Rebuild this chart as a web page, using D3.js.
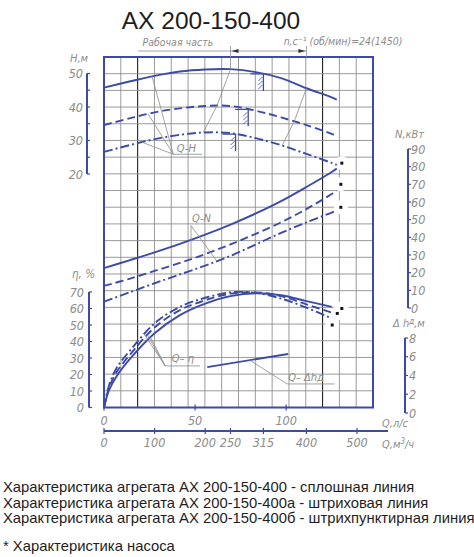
<!DOCTYPE html>
<html>
<head>
<meta charset="utf-8">
<script src="https://cdn.jsdelivr.net/npm/d3@7"></script>
<style>
  body { margin: 0; background: #fff; }
  svg { display: block; }
  .cad { font-family: 'DejaVu Sans Condensed', 'DejaVu Sans', sans-serif; font-style: italic; font-weight: 200; fill: #8c8c8c; }
  .note { font-family: 'Liberation Sans', Arial, sans-serif; fill: #1e1e1e; }
</style>
</head>
<body>
<svg width="474" height="557"></svg>
<script>
const d3 = window.d3

// Values, Q in m3/h

const title = 'АХ 200-150-400'
const variants = ['АХ 200-150-400', 'АХ 200-150-400а', 'АХ 200-150-400б']

const qFlow = [0, 50, 100, 150, 200, 250, 300, 350, 400, 450, 460]
const headSolid = [45.8, 47.6, 49.3, 50.6, 51.2, 51.3, 50.4, 48.6, 45.6, 42.9, 42.2]
const headDash = [34.6, 36.6, 38.4, 39.6, 40.3, 40.3, 38.9, 36.9, 34.6, 32.0, 31.4]
const headDashDot = [26.6, 28.6, 30.4, 31.7, 32.4, 32.2, 30.7, 28.6, 26.0, 23.3, 22.7]

const powerSolid = [22.6, 27, 31.5, 36.3, 41.5, 47.2, 53.5, 60.5, 68.5, 77, 79]
const powerDash = [12.5, 16.5, 21, 25.5, 30.5, 36, 42, 48.5, 56, 64.5, 66.3]
const powerDashDot = [3.6, 8.8, 14, 19, 24, 29.5, 36, 42.5, 48.5, 54, 55.2]

const qEff = [0, 10, 25, 50, 100, 150, 200, 250, 300, 350, 400, 450]
const effSolid = [0, 10.5, 19, 29, 45, 56, 63, 67.5, 69.2, 68, 64.5, 61]
const effDash = [0, 12, 21.5, 31.5, 48.5, 59, 65, 69, 69.8, 67.5, 62.5, 57.5]
const effDashDot = [0, 13.5, 24, 34, 51, 61, 66.5, 69.8, 69.5, 66, 60.5, 54]

const qNpsh = [204, 364]
const npsh = [4.9, 6.3]

const ratedQ = [315, 285, 260]
const workLeftQ = [250, 223, 196]
const workRightQ = [400, 376, 352]

const powerDotsQ = [470, 468, 468]
const powerDots = [82, 70, 57]
const effDotsQ = [470, 461, 451]
const effDots = [60, 57, 50]

const ticksQls = [0, 50, 100]
const ticksQm3 = [0, 100, 200, 250, 315, 400, 500]
const ticksH = [20, 30, 40, 50]
const ticksEff = [0, 10, 20, 30, 40, 50, 60, 70]
const ticksN = [0, 10, 20, 30, 40, 50, 60, 70, 80, 90]
const ticksNpsh = [0, 2, 4, 6, 8]

const notes = variants.map((v, i) => `Характеристика агрегата ${v} - ` +
  ['сплошная линия', 'штриховая линия', 'штрихпунктирная линия'][i])
notes.push('* Характеристика насоса')

// Scales

const x = d3.scaleLinear().domain([0, 500]).range([104, 357])
const yH = d3.scaleLinear().domain([20, 50]).range([174, 73.5])
const yN = d3.scaleLinear().domain([0, 90]).range([308, 149])
const yE = d3.scaleLinear().domain([0, 70]).range([407.5, 292])
const yD = d3.scaleLinear().domain([0, 8]).range([413, 338])

const frame = { left: x(0), right: 373, top: 57, bottom: yE(0) }
const blue = '#3e4ba6'
const gray = '#8c8c8c'
const dashes = [null, '8,4', '9,3,2,3']

// piecewise lookup along a read curve, for anchoring marks and leaders
const along = (qs, vs) => d3.scaleLinear().domain(qs).range(vs)

const svg = d3.select('svg')

svg.append('text').attr('class', 'note')
  .attr('x', 211).attr('y', 28.5)
  .attr('text-anchor', 'middle')
  .attr('font-size', 24.5)
  .text(title)

// Grid

const cols = 16
const rows = 21
const grid = svg.append('g').attr('stroke', '#8e8e8e').attr('stroke-width', 0.9)
d3.range(1, cols).forEach(i => {
  const gx = frame.left + i * (frame.right - frame.left) / cols
  grid.append('line')
    .attr('x1', gx).attr('x2', gx).attr('y1', frame.top).attr('y2', frame.bottom)
    .attr('stroke', i === 2 || i === 13 ? '#222' : null)
    .attr('stroke-width', i === 2 || i === 13 ? 1.1 : null)
})
d3.range(1, rows).forEach(i => {
  const gy = frame.top + i * (frame.bottom - frame.top) / rows
  grid.append('line')
    .attr('x1', frame.left).attr('x2', frame.right).attr('y1', gy).attr('y2', gy)
})

// white patches round the end dots
const halo = svg.append('g').attr('fill', '#fff')
powerDotsQ.forEach((q, i) => halo.append('circle').attr('cx', x(q)).attr('cy', yN(powerDots[i])).attr('r', 7))
effDotsQ.forEach((q, i) => halo.append('circle').attr('cx', x(q)).attr('cy', yE(effDots[i])).attr('r', 7))

svg.append('rect')
  .attr('x', frame.left).attr('y', frame.top)
  .attr('width', frame.right - frame.left).attr('height', frame.bottom - frame.top)
  .attr('fill', 'none').attr('stroke', blue).attr('stroke-width', 2)

// Curves

const curves = svg.append('g').attr('fill', 'none').attr('stroke', blue).attr('stroke-width', 1.9)

function drawCurve (qs, vs, y, i) {
  const line = d3.line().curve(d3.curveCatmullRom.alpha(0.5)).x(d => x(d[0])).y(d => y(d[1]))
  curves.append('path')
    .attr('d', line(qs.map((q, k) => [q, vs[k]])))
    .attr('stroke-dasharray', dashes[i])
}

const heads = [headSolid, headDash, headDashDot]
const powers = [powerSolid, powerDash, powerDashDot]
const effs = [effSolid, effDash, effDashDot]

heads.forEach((h, i) => drawCurve(qFlow, h, yH, i))
powers.forEach((n, i) => drawCurve(qFlow, n, yN, i))
effs.forEach((e, i) => drawCurve(qEff, e, yE, i))
drawCurve(qNpsh, npsh, yD, 0)

// Rated point marks on the Q-H curves

const marks = svg.append('g').attr('fill', 'none').attr('stroke', blue).attr('stroke-width', 1.3)
ratedQ.forEach((q, i) => {
  const px = x(q)
  const py = yH(along(qFlow, heads[i])(q))
  marks.append('path').attr('d', `M${px - 13},${py}H${px}V${py + 17}`)
  d3.range(3).forEach(k => {
    marks.append('line')
      .attr('x1', px - 5).attr('y1', py + 7 + k * 4)
      .attr('x2', px - 1).attr('y2', py + 3 + k * 4)
      .attr('stroke-width', 0.8)
  })
})

// End dots

const dots = svg.append('g').attr('fill', '#151515')
powerDotsQ.forEach((q, i) => dots.append('rect').attr('x', x(q) - 1.5).attr('y', yN(powerDots[i]) - 1.5).attr('width', 3).attr('height', 3))
effDotsQ.forEach((q, i) => dots.append('rect').attr('x', x(q) - 1.5).attr('y', yE(effDots[i]) - 1.5).attr('width', 3).attr('height', 3))

// Leaders and captions

const lead = svg.append('g').attr('fill', 'none').attr('stroke', gray).attr('stroke-width', 0.8)
const path = pts => lead.append('path').attr('d', d3.line()(pts))

function caption (text, px, py, size) {
  return svg.append('text').attr('class', 'cad')
    .attr('x', px).attr('y', py).attr('font-size', size).text(text)
}

// working range dimension
const topY = 51
path([[x(67), topY], [x(400), topY]])
path([[x(250), topY - 5], [x(250), topY + 10]])
path([[x(400), topY - 5], [x(400), frame.top]])
const arrow = (tip, dir) => svg.append('path')
  .attr('d', `M${tip},${topY}l${-7 * dir},-2v4z`).attr('fill', '#333')
arrow(x(250) + 1, -1)
arrow(x(400) - 1, 1)
caption('Рабочая часть', x(76), 46, 10.5)
caption('n,c⁻¹ (об/мин)=24(1450)', x(355), 45, 10.5)

path([[x(250), topY + 10]].concat(workLeftQ.map((q, i) => [x(q), yH(along(qFlow, heads[i])(q))])))
path(workRightQ.map((q, i) => [x(q), yH(along(qFlow, heads[i])(q))]))

// Q-H
const hubH = [x(137), yH(25.9)]
;[95, 87, 75].forEach((q, i) => path([hubH, [x(q), yH(along(qFlow, heads[i])(q))]]))
path([hubH, [x(194), yH(25.9)]])
caption('Q-H', x(144), yH(26.7), 11)

// Q-N
const hubN = [x(172), yN(46.6)]
path([hubN, [x(172), yN(along(qFlow, powerDash)(172))]])
path([hubN, [x(223), yN(along(qFlow, powerDashDot)(223))]])
caption('Q-N', x(174), yN(48.6), 11)

// Q-eta
const hubE = [x(121), yE(25.2)]
;[92, 86, 80].forEach((q, i) => path([hubE, [x(q), yE(along(qEff, effs[i])(q))]]))
path([hubE, [x(190), yE(25.2)]])
caption('Q– η', x(134), yE(27.6), 11)

// Q-dh
const hubD = [x(362), yD(3.1)]
path([[x(288), yD(along(qNpsh, npsh)(288))], hubD, [x(456), yD(3.1)]])
caption('Q– Δhд', x(364), yD(3.4), 11)

// Axes

const axes = svg.append('g').attr('stroke', blue).attr('stroke-width', 2).attr('fill', 'none')

function vAxis (y, ticks, minor, ax, side, labelX, anchor) {
  const lo = d3.min(ticks)
  const hi = d3.max(ticks)
  axes.append('line').attr('x1', ax).attr('x2', ax).attr('y1', y(hi)).attr('y2', y(lo))
  d3.range(lo, hi + minor / 2, minor).forEach(v => {
    axes.append('line').attr('x1', ax).attr('x2', ax + 3 * side)
      .attr('y1', y(v)).attr('y2', y(v)).attr('stroke-width', 1.2)
  })
  ticks.forEach(v => {
    svg.append('text').attr('class', 'cad')
      .attr('x', labelX).attr('y', y(v) + 4.5)
      .attr('text-anchor', anchor).attr('font-size', 12.5)
      .text(v)
  })
}

vAxis(yH, ticksH, 5, 87, 1, 83, 'end')
caption('Н,м', 70, 62, 11)
vAxis(yE, ticksEff, 10, 89, 1, 84, 'end')
caption('η, %', 72, 278, 11.5)
vAxis(yN, ticksN, 10, 408, 1, 411, 'start')
caption('N,кВт', 395, 138, 11)
vAxis(yD, ticksNpsh, 2, 405, 1, 409, 'start')
const dl = caption('Δ h', 393, 327, 11)
dl.append('tspan').attr('dy', -3).attr('font-size', 8).text('д')
dl.append('tspan').attr('dy', 3).text(',м')

// Q axes under the frame

ticksQls.forEach(v => {
  axes.append('line').attr('x1', x(v * 3.6)).attr('x2', x(v * 3.6))
    .attr('y1', frame.bottom - 3).attr('y2', frame.bottom + 3).attr('stroke-width', 1.2)
  svg.append('text').attr('class', 'cad')
    .attr('x', x(v * 3.6)).attr('y', 425).attr('text-anchor', 'middle').attr('font-size', 12.5)
    .text(v)
})
caption('Q,л/с', 382, 427, 11)

const qLineY = 431
axes.append('line').attr('x1', x(0)).attr('x2', 388).attr('y1', qLineY).attr('y2', qLineY)
ticksQm3.forEach(v => {
  axes.append('line').attr('x1', x(v)).attr('x2', x(v))
    .attr('y1', qLineY - 3).attr('y2', qLineY + 3).attr('stroke-width', 1.2)
  svg.append('text').attr('class', 'cad')
    .attr('x', x(v)).attr('y', 447).attr('text-anchor', 'middle').attr('font-size', 12.5)
    .text(v)
})
const qm = caption('Q,м', 382, 448, 11)
qm.append('tspan').attr('dy', -4).attr('font-size', 8).text('3')
qm.append('tspan').attr('dy', 4).text('/ч')

// Notes below

svg.append('g').selectAll('text').data(notes).enter().append('text')
  .attr('class', 'note')
  .attr('x', 3)
  .attr('y', (d, i) => i < 3 ? 492 + i * 15.5 : 551)
  .attr('font-size', 14.8)
  .text(d => d)
</script>
</body>
</html>
